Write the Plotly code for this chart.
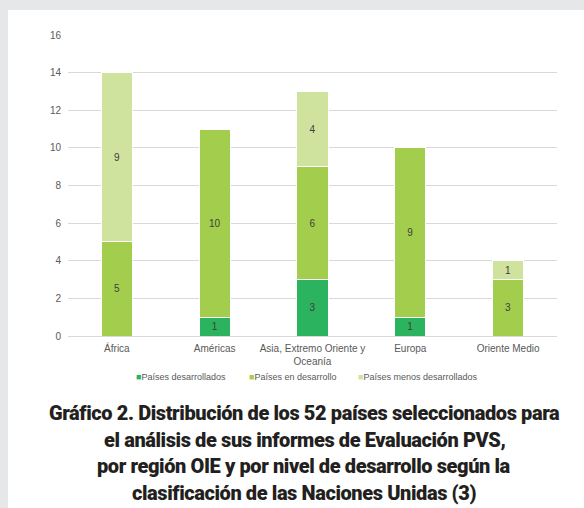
import plotly.graph_objects as go

categories = ["África", "Américas", "Asia, Extremo Oriente y<br>Oceanía", "Europa", "Oriente Medio"]
series_names = ["Países desarrollados", "Países en desarrollo", "Países menos desarrollados"]
desarrollados = [0, 1, 3, 1, 0]
en_desarrollo = [5, 10, 6, 9, 3]
menos_desarrollados = [9, 0, 4, 0, 1]
y_ticks = [0, 2, 4, 6, 8, 10, 12, 14, 16]
title_lines = [
    "Gráfico 2. Distribución de los 52 países seleccionados para",
    "el análisis de sus informes de Evaluación PVS,",
    "por región OIE y por nivel de desarrollo según la",
    "clasificación de las Naciones Unidas (3)",
]

colors = ["#2bb35f", "#a3cd4c", "#cfe39e"]
W, H = 584, 508
L, R, T, B = 68, 27, 35, 172
pw, ph = W - L - R, H - T - B
TXT = "#595959"
SANS = "Liberation Sans, Arial"

fig = go.Figure()
for name, vals, col in zip(series_names, [desarrollados, en_desarrollo, menos_desarrollados], colors):
    fig.add_trace(go.Bar(
        x=categories, y=vals, name=name,
        marker=dict(color=col, line=dict(color="white", width=1)),
        text=[str(v) if v else "" for v in vals],
        textposition="inside", insidetextanchor="middle",
        textfont=dict(size=10, color="#404040", family=SANS),
        hoverinfo="skip", showlegend=False,
    ))

def px_x(x):
    return (x - L) / pw

def px_y(y):
    return (H - B - y) / ph

shapes = [dict(type="rect", xref="paper", yref="paper", layer="below",
               x0=px_x(8), x1=px_x(W + 5), y0=px_y(H + 5), y1=px_y(10),
               fillcolor="white", line=dict(width=0))]

annotations = []
for i, line in enumerate(title_lines):
    annotations.append(dict(
        text="<span style='letter-spacing:-0.4px'>" + line + "</span>", xref="paper", yref="paper",
        x=px_x(304), y=px_y(413 + i * 26.5), xanchor="center", yanchor="middle",
        showarrow=False,
        font=dict(size=20, color="#231f20", family="Roboto", weight=900),
    ))

legend_x = [135, 248, 357]
for name, col, lx in zip(series_names, colors, legend_x):
    annotations.append(dict(
        text=f"<span style='color:{col}'>■</span>{name}", xref="paper", yref="paper",
        x=px_x(lx - 1), y=px_y(377), xanchor="left", yanchor="middle", showarrow=False,
        font=dict(size=9, color=TXT, family=SANS),
    ))

fig.update_layout(
    width=W, height=H,
    margin=dict(l=L, r=R, t=T, b=B, pad=0),
    paper_bgcolor="#e6e7e9",
    plot_bgcolor="rgba(0,0,0,0)",
    barmode="stack",
    bargap=0.68,
    showlegend=False,
    xaxis=dict(showgrid=False, showline=True, linecolor="#d9d9d9", linewidth=1,
               tickfont=dict(size=10, color=TXT, family=SANS),
               ticks="", fixedrange=True, ticklabelstandoff=3),
    yaxis=dict(range=[0, 16], tickvals=y_ticks, showgrid=True, gridcolor="#d9d9d9", gridwidth=1,
               zeroline=False, showline=False,
               tickfont=dict(size=10, color=TXT, family=SANS),
               ticklabelstandoff=6, fixedrange=True),
    shapes=shapes,
    annotations=annotations,
)

fig.write_html("out.html", config={"displayModeBar": False},
               post_script="document.body.style.margin='0';document.body.style.padding='0';")
